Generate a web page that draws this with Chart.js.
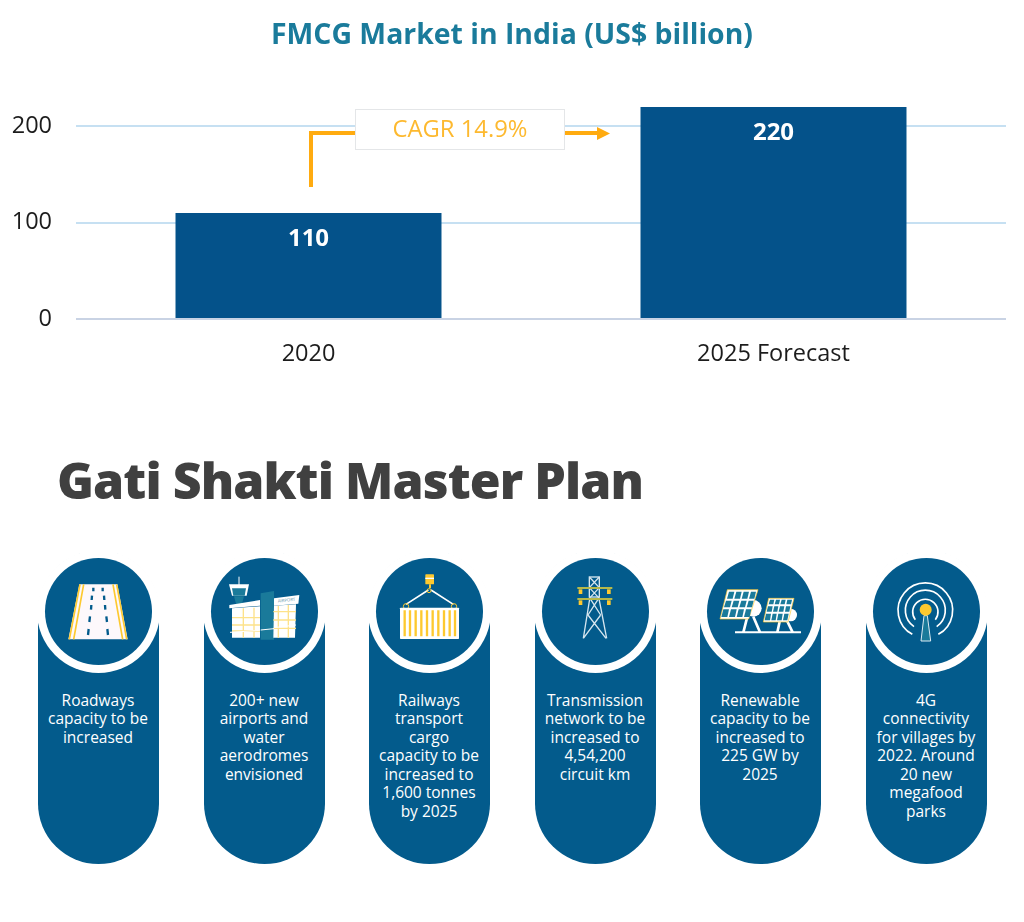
<!DOCTYPE html>
<html>
<head>
<meta charset="utf-8">
<title>FMCG Market in India</title>
<script src="https://cdn.jsdelivr.net/npm/chart.js@4"></script>
<style>
html,body{margin:0;padding:0;background:#fff;}
body{position:relative;width:1024px;height:922px;overflow:hidden;font-family:"Open Sans",sans-serif;}
#fmcgChart{position:absolute;left:0;top:0;}
h1{position:absolute;left:0;width:1024px;top:16px;margin:0;text-align:center;font-size:28.4px;line-height:34px;font-weight:700;color:#1a7b9b;white-space:nowrap;}
h2{position:absolute;left:57px;top:446px;margin:0;font-size:50px;line-height:68px;font-weight:800;letter-spacing:-0.92px;color:#404040;white-space:nowrap;}
.card{position:absolute;top:551px;width:121px;height:313px;border-radius:60.5px;background:#035b8c;}
.ring{position:absolute;left:-1px;top:-1px;width:123px;height:123px;border-radius:50%;background:#fff;}
.disc{position:absolute;left:8px;top:8px;width:107px;height:107px;border-radius:50%;background:#035b8c;}
.card p{position:absolute;left:-5px;right:-4px;top:139.5px;margin:0;text-align:center;color:#fff;font-size:15.5px;line-height:18.6px;}
.icon{position:absolute;top:545px;width:310px;height:130px;}
</style>
</head>
<body>
<canvas id="fmcgChart" width="1024" height="380"></canvas>
<h1>FMCG Market in India (US$ billion)</h1>
<h2>Gati Shakti Master Plan</h2>
<div id="cards"></div>

<svg class="icon" style="left:30px" viewBox="0 0 930 390">
  <polygon points="148,118 262,118 293,283 115,283" fill="#fdf8fb"/>
  <g stroke="#fdc92f" stroke-width="5" fill="none">
    <path d="M150 118L118 283M161 118L131 283M249 118L278 283M260 118L290 283"/>
  </g>
  <g stroke="#035b8c" stroke-width="7" fill="none">
    <path d="M190 128v11M218 128v11M186 152l-1 13M222 152l1 13M184 180l-1 14M225 180l1 14M180 214l-2 17M229 214l2 17M176 252l-2 18M232 252l2 18"/>
  </g>
  <path d="M627 95v25" stroke="#fff" stroke-width="3"/>
  <polygon points="597,118 657,118 650,152 606,152" fill="#fff"/>
  <polygon points="606,130 648,130 644,152 610,152" fill="#1a7a9a"/>
  <polygon points="612,154 642,154 636,176 618,176" fill="#1a7a9a"/>
  <polygon points="692,145 732,138 732,284 692,284" fill="#1a7a9a"/>
  <polygon points="598,180 690,165 690,182 598,190" fill="#fff"/>
  <polygon points="606,190 690,184 690,278 606,278" fill="#fff"/>
  <polygon points="732,160 808,150 805,176 732,182" fill="#fff"/>
  <polygon points="732,182 798,178 795,278 730,278" fill="#fff"/>
  <text x="770" y="170" font-size="13" fill="#6a97ad" text-anchor="middle" transform="rotate(-6 770 170)">AIRPORT</text>
  <g stroke="#fde28a" stroke-width="4" fill="none">
    <path d="M606 218H690M606 240H690M606 258H690M640 190V278M672 188V278M730 200H798M730 225H798M730 250H798M745 182V278M775 180V278"/>
  </g>
  <path d="M600 262L690 256M692 255L732 251M732 248L798 240" stroke="#fff" stroke-width="3" fill="none"/>
</svg>

<svg class="icon" style="left:360px" viewBox="0 0 930 390">
  <rect x="196" y="88" width="26" height="30" rx="2" fill="#fdc92f"/>
  <rect x="196" y="98" width="26" height="4" fill="#fff"/>
  <path d="M210 118v12" stroke="#fdc92f" stroke-width="6"/>
  <path d="M205 135L138 178M213 135L280 178" stroke="#fff" stroke-width="5"/>
  <circle cx="207" cy="137" r="6" fill="none" stroke="#fdc92f" stroke-width="3"/>
  <circle cx="138" cy="184" r="8" fill="none" stroke="#fdc92f" stroke-width="3"/>
  <circle cx="282" cy="184" r="8" fill="none" stroke="#fdc92f" stroke-width="3"/>
  <rect x="120" y="188" width="177" height="94" rx="2" fill="#fff"/>
  <path d="M134 196v78M150 196v78M167 196v78M184 196v78M201 196v78M218 196v78M235 196v78M252 196v78M269 196v78M285 196v78" stroke="#fdc92f" stroke-width="7"/>
  <g stroke="#d6e6ef" stroke-width="4" fill="none">
    <rect x="688" y="96" width="30" height="60"/>
    <path d="M688 96L718 128M718 96L688 128M688 128L718 160M718 128L688 160M690 156L670 280M716 156L740 280M690 160L722 210M716 160L684 210M684 210L738 280M722 210L670 280"/>
  </g>
  <path d="M652 129H757M652 162H757" stroke="#b5b84a" stroke-width="6"/>
  <g fill="#fdc92f">
    <rect x="656" y="133" width="11" height="14"/>
    <rect x="741" y="133" width="11" height="14"/>
    <rect x="656" y="166" width="11" height="14"/>
    <rect x="741" y="166" width="11" height="14"/>
  </g>
</svg>

<svg class="icon" style="left:690px" viewBox="0 0 930 390">
  <path d="M135 262H333" stroke="#fff" stroke-width="6"/>
  <circle cx="190" cy="190" r="25" fill="#fff"/>
  <circle cx="302" cy="210" r="19" fill="#fff"/>
  <path d="M172 215L160 262M190 215L210 262M270 225L262 262M290 225L308 262" stroke="#fff" stroke-width="8"/>
  <polygon points="112,134 204,134 176,222 90,222" fill="#fff" stroke="#fdc92f" stroke-width="2"/>
  <polygon points="236,160 312,160 294,231 220,231" fill="#fff" stroke="#fdc92f" stroke-width="2"/>
  <g fill="#1a7a9a">
    <polygon points="117,140 133,140 128,161 111,161"/><polygon points="139,140 155,140 150,161 133,161"/><polygon points="161,140 177,140 172,161 155,161"/><polygon points="183,140 198,140 193,161 177,161"/>
    <polygon points="108,167 125,167 120,187 102,187"/><polygon points="131,167 148,167 143,187 125,187"/><polygon points="154,167 170,167 165,187 148,187"/><polygon points="176,167 191,167 186,187 170,187"/>
    <polygon points="100,193 117,193 112,216 94,216"/><polygon points="123,193 140,193 135,216 117,216"/><polygon points="146,193 162,193 157,216 140,216"/><polygon points="168,193 184,193 179,216 162,216"/>
    <polygon points="240,164 253,164 250,178 236,178"/><polygon points="258,164 270,164 267,178 254,178"/><polygon points="275,164 287,164 284,178 271,178"/><polygon points="292,164 306,164 303,178 289,178"/>
    <polygon points="234,184 248,184 245,200 230,200"/><polygon points="253,184 265,184 262,200 249,200"/><polygon points="270,184 283,184 280,200 266,200"/><polygon points="288,184 301,184 298,200 285,200"/>
    <polygon points="228,206 243,206 240,226 224,226"/><polygon points="248,206 260,206 257,226 244,226"/><polygon points="265,206 278,206 275,226 261,226"/><polygon points="283,206 296,206 292,226 279,226"/>
  </g>
  <g fill="none" stroke="#fff" stroke-width="5">
    <path d="M667 268A82 82 0 1 1 745 268"/>
    <path d="M672 245A60 60 0 1 1 740 245"/>
    <path d="M676 224A38 38 0 1 1 736 224"/>
  </g>
  <polygon points="702,212 712,212 722,288 693,288" fill="#1a7a9a" stroke="#dcebf3" stroke-width="3"/>
  <circle cx="707" cy="194" r="18" fill="#fdc92f"/>
</svg>

<script>
// ================= DATA =================
const categories = ["2020", "2025 Forecast"];
const marketValues = [110, 220];
const yTicks = [0, 100, 200];

const cardLefts = [38, 204, 369, 535, 700, 866];
const cardLines = [
  ["Roadways", "capacity to be", "increased"],
  ["200+ new", "airports and", "water", "aerodromes", "envisioned"],
  ["Railways", "transport", "cargo", "capacity to be", "increased to", "1,600 tonnes", "by 2025"],
  ["Transmission", "network to be", "increased to", "4,54,200", "circuit km"],
  ["Renewable", "capacity to be", "increased to", "225 GW by", "2025"],
  ["4G", "connectivity", "for villages by", "2022. Around", "20 new", "megafood", "parks"]
];

// ================= CARDS =================
const cards = document.getElementById("cards");
cardLines.forEach((lines, i) => {
  cards.innerHTML += `
    <div class="card" style="left:${cardLefts[i]}px">
      <div class="ring"><div class="disc"></div></div>
      <p>${lines.join("<br>")}</p>
    </div>`;
});

// ================= PLUGINS =================
const barLabels = {
  id: "barLabels",
  afterDatasetsDraw(chart) {
    const ctx = chart.ctx;
    ctx.save();
    ctx.fillStyle = "#fff";
    ctx.font = "700 24px 'Open Sans'";
    ctx.textAlign = "center";
    ctx.textBaseline = "middle";
    chart.getDatasetMeta(0).data.forEach((bar, i) => {
      ctx.fillText(marketValues[i], bar.x, bar.y + 26);
    });
    ctx.restore();
  }
};

const cagrArrow = {
  id: "cagrArrow",
  afterDatasetsDraw(chart) {
    const ctx = chart.ctx;
    ctx.save();
    ctx.strokeStyle = "#ffab10";
    ctx.fillStyle = "#ffab10";
    ctx.lineWidth = 4;
    ctx.beginPath();
    ctx.moveTo(311, 187);
    ctx.lineTo(311, 133);
    ctx.lineTo(598, 133);
    ctx.stroke();
    ctx.beginPath();
    ctx.moveTo(597, 127);
    ctx.lineTo(610, 133.5);
    ctx.lineTo(597, 140);
    ctx.closePath();
    ctx.fill();

    ctx.fillStyle = "#fff";
    ctx.strokeStyle = "#e4e6e8";
    ctx.lineWidth = 1;
    ctx.fillRect(355, 109, 210, 41);
    ctx.strokeRect(355.5, 109.5, 209, 40);
    ctx.fillStyle = "#fdb92f";
    ctx.font = "23.8px 'Open Sans'";
    ctx.textAlign = "center";
    ctx.textBaseline = "middle";
    ctx.fillText("CAGR 14.9%", 460, 130);
    ctx.restore();
  }
};

// ================= CHART =================
new Chart(document.getElementById("fmcgChart"), {
  type: "bar",
  data: {
    labels: categories,
    datasets: [{
      data: marketValues,
      backgroundColor: "#04528a",
      barPercentage: 0.572,
      categoryPercentage: 1
    }]
  },
  options: {
    responsive: false,
    animation: false,
    layout: { padding: { top: 107, right: 18 } },
    plugins: {
      legend: { display: false },
      tooltip: { enabled: false }
    },
    scales: {
      x: {
        border: { display: false },
        grid: { display: false },
        ticks: { color: "#1c1c1c", padding: 13, font: { family: "'Open Sans'", size: 23.5 } },
        afterFit: s => { s.height = 61; }
      },
      y: {
        min: 0,
        max: 220,
        border: { display: false },
        afterBuildTicks: s => { s.ticks = yTicks.map(v => ({ value: v })); },
        afterFit: s => { s.width = 76; },
        grid: {
          drawTicks: false,
          lineWidth: 2,
          color: c => (c.tick.value === 0 ? "#c9d3e4" : "#c6e0f2")
        },
        ticks: { color: "#1c1c1c", padding: 24, font: { family: "'Open Sans'", size: 23.5 } }
      }
    }
  },
  plugins: [barLabels, cagrArrow]
});
</script>
</body>
</html>
